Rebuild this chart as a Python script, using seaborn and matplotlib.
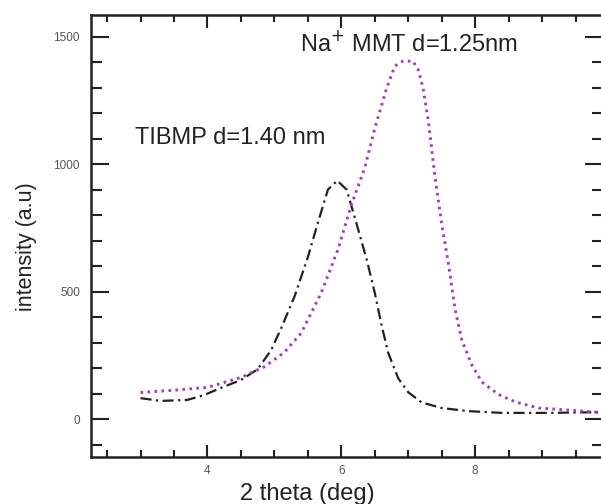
import matplotlib
matplotlib.use("Agg")
import matplotlib.pyplot as plt
import seaborn as sns
import pandas as pd
from matplotlib.ticker import MultipleLocator

# TIBMP (black dash-dot)
tibmp_x = [3.0, 3.3, 3.7, 3.95, 4.2, 4.5, 4.75, 4.95, 5.1, 5.3, 5.5, 5.65, 5.8,
           5.94, 6.08, 6.24, 6.38, 6.5, 6.6, 6.7, 6.85, 7.0, 7.2, 7.5, 7.9, 8.4, 9.1, 9.9]
tibmp_y = [82, 71, 75, 94, 122, 153, 195, 270, 355, 480, 635, 770, 900,
           935, 900, 755, 625, 495, 370, 260, 160, 105, 65, 43, 31, 24, 24, 27]

# Na+ MMT (magenta dotted)
mmt_x = [3.0, 3.5, 4.0, 4.5, 4.85, 5.15, 5.4, 5.7, 5.95, 6.15, 6.35, 6.5, 6.68, 6.8,
         6.92, 7.07, 7.15, 7.22, 7.3, 7.4, 7.5, 7.6, 7.7, 7.8, 7.95, 8.1, 8.35, 8.6,
         8.95, 9.4, 9.9]
mmt_y = [104, 113, 124, 163, 205, 262, 337, 495, 665, 840, 985, 1140, 1300, 1385,
         1404, 1404, 1370, 1300, 1170, 950, 765, 610, 430, 310, 212, 145, 96, 67,
         43, 35, 25]

x_major = [4, 6, 8]
y_major = [0, 500, 1000, 1500]

sns.set_style("white")
plt.rcParams['font.family'] = ['Liberation Sans', 'DejaVu Sans']

fig = plt.figure(figsize=(6.01, 5.04), dpi=100)
ax = fig.add_axes([91/601, 47/504, 512/601, 442/504])

df1 = pd.DataFrame({"x": tibmp_x, "y": tibmp_y})
df2 = pd.DataFrame({"x": mmt_x, "y": mmt_y})
sns.lineplot(data=df1, x="x", y="y", ax=ax, color="#222222", lw=1.6,
             linestyle=(0, (5, 2, 1, 2)), sort=False)
sns.lineplot(data=df2, x="x", y="y", ax=ax, color="#a33cb8", lw=2.1,
             linestyle=(0, (0.9, 1.5)), sort=False)

ax.set_xlim(2.26, 9.91)
ax.set_ylim(-149, 1585)
ax.set_xticks(x_major)
ax.set_yticks(y_major)
ax.xaxis.set_minor_locator(MultipleLocator(0.5))
ax.yaxis.set_minor_locator(MultipleLocator(100))

for s in ax.spines.values():
    s.set_linewidth(1.8)
    s.set_color("#222222")

ax.tick_params(axis='x', which='major', direction='in', length=9, width=1.5,
               top=True, bottom=True, labelsize=8.5, labelcolor='#555555', pad=6, color='#222222')
ax.tick_params(axis='x', which='minor', direction='in', length=5, width=1.5,
               top=True, bottom=True, color='#222222')
ax.tick_params(axis='y', which='major', direction='in', length=13, width=1.5,
               left=True, right=True, labelsize=8.5, labelcolor='#555555', pad=8, color='#222222')
ax.tick_params(axis='y', which='minor', direction='in', length=8, width=1.5,
               left=True, right=True, color='#222222')

ax.set_xlabel("2 theta (deg)", fontsize=17, color='#222222')
ax.set_ylabel("intensity (a.u)", fontsize=15.5, color='#222222')
ax.xaxis.set_label_coords(0.422, -0.058)
ax.yaxis.set_label_coords(-0.106, 0.475)

ax.text(2.92, 1103, "TIBMP d=1.40 nm", fontsize=17, color='#222222',
        ha='left', va='center')
ax.text(7.01, 1472, "Na$^{+}$ MMT d=1.25nm", fontsize=17, color='#222222',
        ha='center', va='center')

fig.savefig("out.png", dpi=100)
